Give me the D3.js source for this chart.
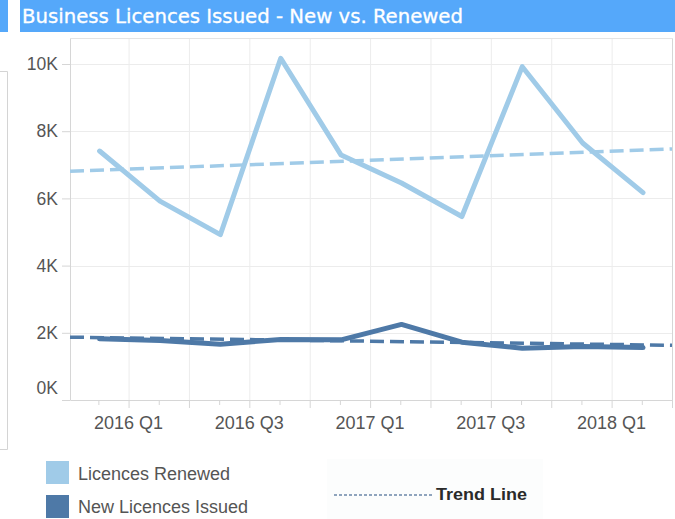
<!DOCTYPE html>
<html>
<head>
<meta charset="utf-8">
<script src="https://cdn.jsdelivr.net/npm/d3@7"></script>
<style>
  body { margin: 0; background: #fff; }
  svg { display: block; }
</style>
</head>
<body>
<div id="chart"></div>
<script>
// quarters are indexed from 2016 Q1 = 0
const quarters = ['2015 Q4', '2016 Q1', '2016 Q2', '2016 Q3', '2016 Q4', '2017 Q1', '2017 Q2', '2017 Q3', '2017 Q4', '2018 Q1'];
const quarterIndex = [-1, 0, 1, 2, 3, 4, 5, 6, 7, 8];
const renewed = [7410, 5920, 4920, 10170, 7290, 6460, 5460, 9920, 7650, 6170];
const newIssued = [1820, 1770, 1660, 1800, 1790, 2250, 1720, 1540, 1590, 1560];
const xTickIndex = [0, 2, 4, 6, 8];
const xTickLabels = ['2016 Q1', '2016 Q3', '2017 Q1', '2017 Q3', '2018 Q1'];
const yTicks = [0, 2000, 4000, 6000, 8000, 10000];
const legendItems = ['Licences Renewed', 'New Licences Issued'];

const width = 675;
const height = 519;
const plotLeft = 70;
const plotRight = 672;
const plotTop = 38;
const plotBottom = 400;
const lightBlue = '#a0cbe8';
const darkBlue = '#4e79a7';

const svg = d3.select('#chart').append('svg')
  .attr('width', width)
  .attr('height', height);

// header bars
svg.append('rect').attr('x', 0).attr('y', 0).attr('width', 8).attr('height', 32).attr('fill', '#55a8fa');
svg.append('rect').attr('x', 20).attr('y', 0).attr('width', width - 20).attr('height', 32).attr('fill', '#55a8fa');
svg.append('text')
  .attr('x', 22)
  .attr('y', 23)
  .attr('fill', '#fff')
  .attr('stroke', '#fff')
  .attr('stroke-width', 0.3)
  .attr('font-family', '"DejaVu Sans Condensed", "DejaVu Sans", sans-serif')
  .attr('font-size', 20)
  .attr('textLength', 441)
  .attr('lengthAdjust', 'spacingAndGlyphs')
  .text('Business Licences Issued - New vs. Renewed');

// edge of neighbouring panel on the left
svg.append('path')
  .attr('d', 'M0,71.5 H7.5 V449.5 H0')
  .attr('fill', 'none')
  .attr('stroke', '#d4d4d4')
  .attr('stroke-width', 1);

const x = d3.scaleLinear().domain([-0.97, 9]).range([plotLeft, plotRight]);
const y = d3.scaleLinear().domain([0, 10000]).range([plotBottom, 64]);

// grid
const gridG = svg.append('g');
gridG.selectAll('.vgrid')
  .data(d3.range(0, 10))
  .join('line')
  .attr('x1', d => x(d) + 0.5).attr('x2', d => x(d) + 0.5)
  .attr('y1', plotTop).attr('y2', plotBottom)
  .attr('stroke', '#ececec');
gridG.selectAll('.hgrid')
  .data(yTicks.slice(1))
  .join('line')
  .attr('x1', plotLeft).attr('x2', plotRight)
  .attr('y1', d => Math.round(y(d)) + 0.5).attr('y2', d => Math.round(y(d)) + 0.5)
  .attr('stroke', '#ececec');

// frame
svg.append('path')
  .attr('d', `M${plotLeft + 0.5},${plotTop} V${plotBottom + 0.5} H${plotRight + 0.5} V${plotTop}`)
  .attr('fill', 'none')
  .attr('stroke', '#d6d6d6');
svg.append('line')
  .attr('x1', plotLeft).attr('x2', plotRight + 1)
  .attr('y1', plotTop + 0.5).attr('y2', plotTop + 0.5)
  .attr('stroke', '#e4e4e4');

// y axis
const yAxis = svg.append('g')
  .attr('transform', `translate(${plotLeft},0)`)
  .call(d3.axisLeft(y).tickValues(yTicks).tickSize(8).tickPadding(4)
    .tickFormat(d => (d / 1000) + 'K'));
yAxis.select('.domain').remove();
yAxis.selectAll('line').attr('stroke', '#d6d6d6');
yAxis.selectAll('text')
  .attr('fill', '#555')
  .attr('font-family', '"Liberation Sans", Arial, sans-serif')
  .attr('font-size', 17.5);
// bottom label sits above the axis line
yAxis.selectAll('.tick').filter(d => d === 0).select('text').attr('y', -12);

// x axis: major ticks at quarter starts, minor at quarter middles
const xAxis = svg.append('g')
  .attr('transform', `translate(0,${plotBottom})`);
xAxis.selectAll('.major')
  .data(d3.range(0, 10))
  .join('line')
  .attr('x1', d => x(d) + 0.5).attr('x2', d => x(d) + 0.5)
  .attr('y1', 0).attr('y2', 8)
  .attr('stroke', '#d6d6d6');
xAxis.selectAll('.minor')
  .data(quarterIndex)
  .join('line')
  .attr('x1', d => x(d + 0.5) + 0.5).attr('x2', d => x(d + 0.5) + 0.5)
  .attr('y1', 0).attr('y2', 5)
  .attr('stroke', '#d6d6d6');
xAxis.selectAll('text')
  .data(xTickIndex)
  .join('text')
  .attr('x', d => x(d))
  .attr('y', 29)
  .attr('text-anchor', 'middle')
  .attr('fill', '#555')
  .attr('font-family', '"Liberation Sans", Arial, sans-serif')
  .attr('font-size', 18)
  .text((d, i) => xTickLabels[i]);

// linear trend over the quarter positions
const trend = (values) => {
  const xs = quarterIndex.map(d => d + 0.5);
  const mx = d3.mean(xs);
  const my = d3.mean(values);
  const slope = d3.sum(xs, (v, i) => (v - mx) * (values[i] - my)) / d3.sum(xs, v => (v - mx) ** 2);
  const [x0, x1] = x.domain();
  return [[x0, my + slope * (x0 - mx)], [x1, my + slope * (x1 - mx)]];
};

const seriesList = [
  { values: renewed, color: lightBlue },
  { values: newIssued, color: darkBlue }
];

const trendLine = d3.line().x(d => x(d[0])).y(d => y(d[1]));
const dataLine = d3.line().x((d, i) => x(quarterIndex[i] + 0.52)).y(d => y(d));

seriesList.forEach((s) => {
  svg.append('path')
    .attr('d', trendLine(trend(s.values)))
    .attr('fill', 'none')
    .attr('stroke', s.color)
    .attr('stroke-width', 3.5)
    .attr('stroke-dasharray', '14,6');
});

seriesList.forEach((s) => {
  svg.append('path')
    .attr('d', dataLine(s.values))
    .attr('fill', 'none')
    .attr('stroke', s.color)
    .attr('stroke-width', 5)
    .attr('stroke-linecap', 'round')
    .attr('stroke-linejoin', 'round');
});

// legend
const legend = svg.append('g');
legendItems.forEach((label, i) => {
  legend.append('rect')
    .attr('x', 46).attr('y', 461 + i * 34)
    .attr('width', 23).attr('height', 23)
    .attr('fill', seriesList[i].color);
  legend.append('text')
    .attr('x', 78).attr('y', 480 + i * 33)
    .attr('fill', '#555')
    .attr('font-family', '"Liberation Sans", Arial, sans-serif')
    .attr('font-size', 18)
    .text(label);
});

// trend line key
legend.append('rect')
  .attr('x', 327).attr('y', 459).attr('width', 216).attr('height', 60)
  .attr('fill', '#fcfdfd');
legend.append('line')
  .attr('x1', 334).attr('x2', 433)
  .attr('y1', 495).attr('y2', 495)
  .attr('stroke', '#6b87a8')
  .attr('stroke-width', 1.5)
  .attr('stroke-dasharray', '3,2');
legend.append('text')
  .attr('x', 436).attr('y', 500)
  .attr('fill', '#2a2a2a')
  .attr('font-family', '"Liberation Sans", Arial, sans-serif')
  .attr('font-size', 17)
  .attr('font-weight', 'bold')
  .attr('textLength', 91)
  .attr('lengthAdjust', 'spacingAndGlyphs')
  .text('Trend Line');
</script>
</body>
</html>
